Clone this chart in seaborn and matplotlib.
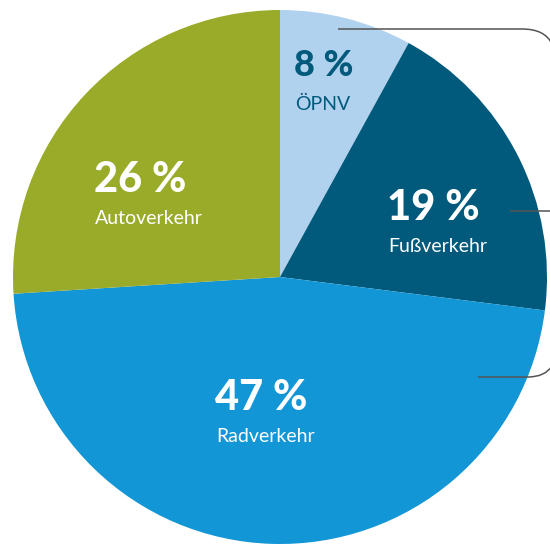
import matplotlib
matplotlib.use("Agg")
import matplotlib.pyplot as plt
import seaborn as sns
from matplotlib.path import Path
from matplotlib.patches import PathPatch

# Modal split data
modes = ["ÖPNV", "Fußverkehr", "Radverkehr", "Autoverkehr"]
shares = [8, 19, 47, 26]
colors = ["#b1d2ee", "#015a7c", "#1396d6", "#9aab29"]
label_colors = ["#015a7c", "white", "white", "white"]

sns.set_theme(style="white")
plt.rcParams["font.family"] = ["Lato", "DejaVu Sans"]

W, H = 550, 546
fig = plt.figure(figsize=(W / 100, H / 100), dpi=100)
ax = fig.add_axes([0, 0, 1, 1])

cx, cy, r = 280, H - 277, 267
ax.pie(shares, colors=colors, startangle=90, counterclock=False,
       center=(cx, cy), radius=r, frame=True,
       wedgeprops=dict(linewidth=0))
ax.set_xlim(0, W)
ax.set_ylim(0, H)
ax.set_aspect("equal")
ax.axis("off")

# label positions (left edge, centre of number in pixels) and font sizes
pos = [(294, 66), (387, 208), (215, 398), (94, 180)]
num_size = [26, 30, 30, 30]
for mode, val, (x, y), c, s in zip(modes, shares, pos, label_colors, num_size):
    ax.text(x, H - y, f"{val} %", color=c, fontsize=s, fontweight="black",
            ha="left", va="center")
    ax.text(x + 1, H - y - 38, mode, color=c, fontsize=14, ha="left",
            va="center")

# callout lines
def curve(pts, codes):
    p = Path([(px, H - py) for px, py in pts], codes)
    ax.add_patch(PathPatch(p, fill=False, edgecolor="#555555", lw=1.1,
                           clip_on=False))

curve([(338, 29), (522, 29), (545, 29), (552, 44)],
      [Path.MOVETO, Path.LINETO, Path.CURVE3, Path.CURVE3])
curve([(510, 211), (552, 211)], [Path.MOVETO, Path.LINETO])
curve([(478, 377), (528, 377), (545, 377), (552, 366)],
      [Path.MOVETO, Path.LINETO, Path.CURVE3, Path.CURVE3])

fig.savefig("out.png", dpi=100)
